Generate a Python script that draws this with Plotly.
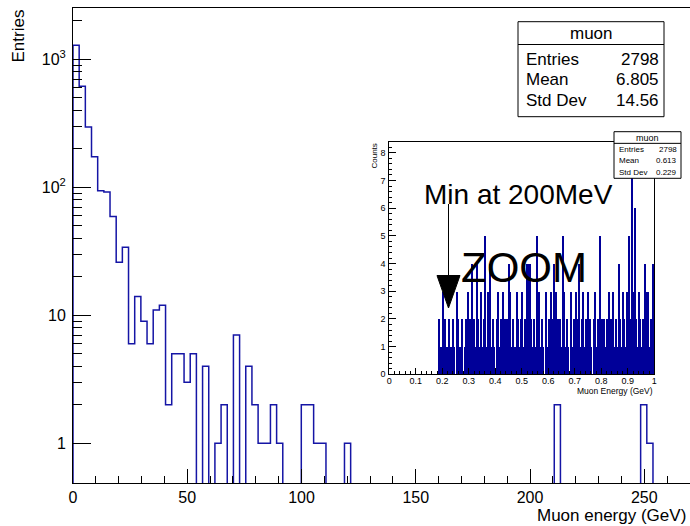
import plotly.graph_objects as go

W, H = 690, 526
ML, MR, MT, MB = 73, 0, 8, 43
FONT = "Liberation Sans, Arial, sans-serif"

# ---------------- main histogram (100 bins, 0-270 GeV) ----------------
main_xmin, main_xmax, main_nbins = 0.0, 270.0, 100
main_counts = [1286, 615, 296, 173, 94, 92, 59, 26, 34, 6,
               14, 9, 6, 11, 12, 2, 5, 5, 3, 5,
               0, 4, 0, 1, 2, 0, 7, 0, 4, 2,
               1, 1, 2, 1, 0, 0, 0, 2, 2, 1,
               1, 0, 0, 0, 1, 0, 0, 0, 0, 0,
               0, 0, 0, 0, 0, 0, 0, 0, 0, 0,
               0, 0, 0, 0, 0, 0, 0, 0, 0, 0,
               0, 0, 0, 0, 0, 0, 0, 0, 2, 0,
               0, 0, 0, 0, 0, 0, 0, 0, 0, 0,
               0, 0, 2, 1, 0, 0, 0, 0, 0, 0]
main_xticks = [0, 50, 100, 150, 200, 250]
main_yticks = [1, 10, 100, 1000]
main_yticktext = ["1", "10", "10<sup>2</sup>", "10<sup>3</sup>"]
main_yminor = [2, 3, 4, 5, 6, 7, 8, 9, 20, 30, 40, 50, 60, 70, 80, 90,
               200, 300, 400, 500, 600, 700, 800, 900, 2000]
main_stats = [("Entries", "2798"), ("Mean", "6.805"), ("Std Dev", "14.56")]

# ---------------- inset histogram (0.005 GeV bins from 0.18 GeV) ----------------
inset_lo, inset_w = 0.18, 0.005
inset_counts = [0, 2, 1, 1, 3, 1, 2, 1, 1, 2,
                1, 1, 2, 1, 0, 3, 2, 1, 1, 2,
                0, 1, 2, 3, 1, 2, 4, 1, 2, 1,
                4, 2, 1, 3, 1, 2, 5, 1, 3, 2,
                4, 1, 2, 1, 0, 2, 3, 1, 2, 1,
                3, 2, 1, 2, 4, 3, 1, 2, 0, 1,
                3, 2, 1, 2, 3, 1, 2, 1, 4, 4,
                4, 2, 1, 2, 1, 5, 2, 3, 1, 2,
                1, 0, 3, 1, 2, 1, 3, 2, 4, 1,
                3, 2, 1, 2, 1, 5, 3, 1, 2, 1,
                0, 3, 1, 2, 1, 3, 2, 4, 1, 2,
                3, 1, 2, 1, 3, 2, 1, 0, 2, 3,
                1, 2, 1, 5, 2, 1, 2, 1, 2, 1,
                3, 2, 1, 3, 1, 2, 1, 4, 2, 1,
                3, 2, 1, 3, 1, 5, 2, 8, 3, 6,
                2, 1, 3, 2, 1, 2, 1, 4, 3, 3,
                1, 2, 1, 4]
inset_xticks = [0, 0.1, 0.2, 0.3, 0.4, 0.5, 0.6, 0.7, 0.8, 0.9, 1]
inset_xticktext = ["0", "0.1", "0.2", "0.3", "0.4", "0.5", "0.6", "0.7", "0.8", "0.9", "1"]
inset_yticks = [0, 1, 2, 3, 4, 5, 6, 7, 8]
inset_stats = [("Entries", "2798"), ("Mean", "0.613"), ("Std Dev", "0.229")]

PW, PH = W - ML - MR, H - MT - MB


def px(x):
    return (x - ML) / PW


def py(y):
    return (H - MB - y) / PH


fig = go.Figure()

# main step outline (ROOT style)
edges = [main_xmin + i * (main_xmax - main_xmin) / main_nbins for i in range(main_nbins + 1)]
floor = 0.05
ys_raw = [c if c > 0 else floor for c in main_counts]
xs = [edges[0]] + edges[:-1] + [edges[-1]]
ys = [floor] + ys_raw + [floor]
fig.add_trace(go.Scatter(x=xs, y=ys, mode="lines", line=dict(color="#1515a5", width=1.5, shape="hv"),
                         hoverinfo="skip", showlegend=False, xaxis="x", yaxis="y"))

# inset bars
icent = [inset_lo + (i + 0.5) * inset_w for i in range(len(inset_counts))]
fig.add_trace(go.Bar(x=icent, y=inset_counts, width=inset_w, marker=dict(color="#000099", line=dict(width=0)),
                     showlegend=False, hoverinfo="skip", xaxis="x2", yaxis="y2"))

fig.update_layout(
    width=W, height=H, margin=dict(l=ML, r=MR, t=MT, b=MB, autoexpand=False),
    paper_bgcolor="white", plot_bgcolor="white",
    font=dict(family=FONT, color="black", size=16),
    bargap=0,
    xaxis=dict(range=[main_xmin, main_xmax], tickmode="array", tickvals=main_xticks,
               ticks="inside", ticklen=14, tickwidth=1, tickcolor="black",
               minor=dict(dtick=10, tick0=0, ticks="inside", ticklen=7, tickcolor="black", tickwidth=1),
               showline=True, linecolor="black", linewidth=1, mirror=True, automargin=False,
               showgrid=False, zeroline=False, tickfont=dict(size=16), domain=[0, 1]),
    yaxis=dict(type="log", range=[-0.31, 3.40], tickmode="array", tickvals=main_yticks,
               ticktext=main_yticktext, ticks="inside", ticklen=18, tickwidth=1, tickcolor="black",
               minor=dict(tickmode="array", tickvals=main_yminor, ticks="inside", ticklen=9,
                          tickcolor="black", tickwidth=1),
               showline=True, linecolor="black", linewidth=1, mirror=True, automargin=False,
               showgrid=False, zeroline=False, tickfont=dict(size=16), ticklabelstandoff=3,
               domain=[0, 1]),
    xaxis2=dict(range=[0, 1], tickmode="array", tickvals=inset_xticks, ticktext=inset_xticktext,
                ticks="inside", ticklen=6, tickwidth=1, tickcolor="black",
                minor=dict(dtick=0.02, tick0=0, ticks="inside", ticklen=3, tickcolor="black"),
                showline=True, linecolor="black", linewidth=1, mirror=True, automargin=False,
                showgrid=False, zeroline=False, tickfont=dict(size=9), ticklabelstandoff=-2,
                anchor="y2", domain=[px(389.3), px(654.3)]),
    yaxis2=dict(range=[0, 8.4], tickmode="array", tickvals=inset_yticks,
                ticks="inside", ticklen=7, tickwidth=1, tickcolor="black",
                minor=dict(dtick=0.2, tick0=0, ticks="inside", ticklen=3, tickcolor="black"),
                showline=True, linecolor="black", linewidth=1, mirror=True, automargin=False,
                showgrid=False, zeroline=False, tickfont=dict(size=9), ticklabelstandoff=1,
                anchor="x2", domain=[py(374.3), py(141.7)]),
)

shapes = []
annotations = []


def text(x, y, s, size, xanchor="left", yanchor="middle", angle=0):
    annotations.append(dict(x=px(x), y=py(y), xref="paper", yref="paper", text=s, showarrow=False,
                            xanchor=xanchor, yanchor=yanchor, textangle=angle,
                            font=dict(size=size, family=FONT, color="black")))


# axis titles
text(18, 8, "Entries", 17, xanchor="center", yanchor="top", angle=-90)
text(688, 515, "Muon energy (GeV)", 17, xanchor="right")
text(655, 391, "Muon Energy (GeV)", 8.5, xanchor="right")
text(374, 142, "Counts", 8, xanchor="center", yanchor="top", angle=-90)

# main stats box
bx0, bx1, by0, by1, bhead = 518, 664, 21.7, 116.7, 44.5
shapes.append(dict(type="rect", xref="paper", yref="paper", x0=px(bx0), x1=px(bx1), y0=py(by1), y1=py(by0),
                   line=dict(color="black", width=1), fillcolor="white"))
shapes.append(dict(type="line", xref="paper", yref="paper", x0=px(bx0), x1=px(bx1), y0=py(bhead), y1=py(bhead),
                   line=dict(color="black", width=1)))
text((bx0 + bx1) / 2, 33.5, "muon", 17, xanchor="center")
for k, (lab, val) in enumerate(main_stats):
    yy = 59.5 + 20.3 * k
    text(bx0 + 6, yy, lab, 17)
    text(bx1 - 3, yy, val, 17, xanchor="right")

# inset stats box
sx0, sx1, sy0, sy1 = 614, 681, 131.7, 178.3
rh = (sy1 - sy0) / 4
shapes.append(dict(type="rect", xref="paper", yref="paper", x0=px(sx0), x1=px(sx1), y0=py(sy1), y1=py(sy0),
                   line=dict(color="black", width=1), fillcolor="white"))
shapes.append(dict(type="line", xref="paper", yref="paper", x0=px(sx0), x1=px(sx1), y0=py(sy0 + rh), y1=py(sy0 + rh),
                   line=dict(color="black", width=1)))
text((sx0 + sx1) / 2, sy0 + rh / 2, "muon", 9, xanchor="center")
for k, (lab, val) in enumerate(inset_stats):
    yy = sy0 + rh * (k + 1.5)
    text(sx0 + 3, yy, lab, 8)
    text(sx1 - 2, yy, val, 8, xanchor="right")

# annotations in the inset
text(422, 194, "Min at 200MeV", 28)
text(459, 268, "ZOOM", 42)
shapes.append(dict(type="line", xref="paper", yref="paper", x0=px(448.5), x1=px(448.5), y0=py(204), y1=py(277),
                   line=dict(color="black", width=1)))
tri = "M {:.5f},{:.5f} L {:.5f},{:.5f} L {:.5f},{:.5f} Z".format(px(437), py(275.5), px(460), py(275.5),
                                                           px(448.5), py(308))
shapes.append(dict(type="path", xref="paper", yref="paper", path=tri, fillcolor="black",
                   line=dict(color="black", width=1)))

fig.update_layout(shapes=shapes, annotations=annotations)
fig.write_html("out.html", config={"displayModeBar": False},
               post_script="document.body.style.margin='0';document.body.style.padding='0';")
